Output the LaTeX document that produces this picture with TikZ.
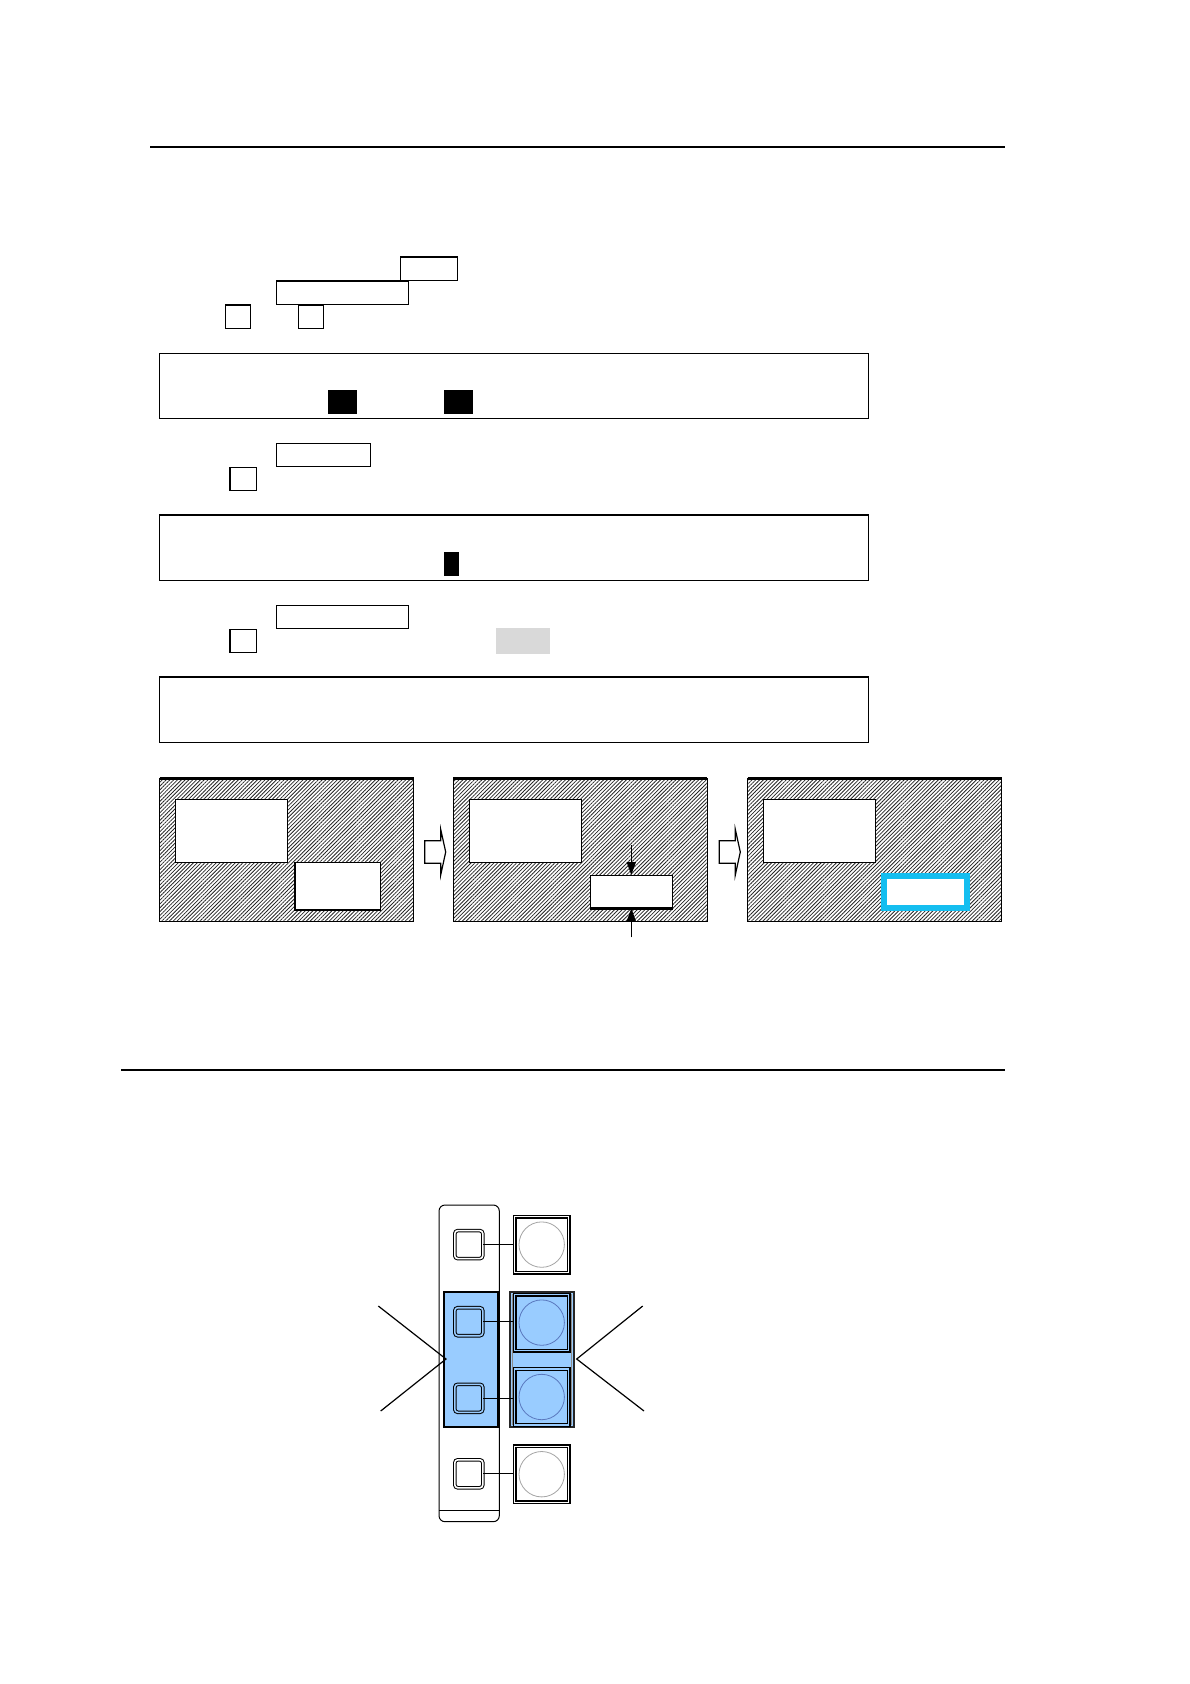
\documentclass[tikz,border=0pt]{standalone}
\usetikzlibrary{patterns.meta,arrows.meta}
\definecolor{cyanb}{RGB}{20,190,240}
\definecolor{lblue}{RGB}{153,204,255}
\definecolor{grayfill}{RGB}{217,217,217}
\definecolor{circgray}{RGB}{165,165,165}
\definecolor{circblue}{RGB}{90,120,190}
\begin{document}
\begin{tikzpicture}[x=0.5bp,y=-0.5bp,
  box/.style={draw=black,line width=0.6bp},
  hatchpanel/.style={draw=black,line width=0.5bp,pattern={Lines[angle=45,distance=1.35pt,line width=0.4pt]},pattern color=black!85},
  winbox/.style={draw=black,line width=0.6bp,fill=white},
  arr/.style={-{Triangle[length=6.5bp,width=4.5bp]},line width=0.7bp},
  blockarrow/.style={draw=black,line width=0.6bp,fill=white},
  smallsq/.style={draw=black,line width=0.5bp,double distance=0.8bp,rounded corners=1.5bp,minimum width=14bp,minimum height=14bp,inner sep=0pt},
  bigbtn/.style={draw=black,line width=0.6bp,double distance=0.7bp,minimum width=27bp,minimum height=28bp,inner sep=0pt},
  btncircle/.style={circle,line width=0.4bp,minimum size=22.7bp,inner sep=0pt},
  link/.style={draw=black,line width=0.6bp},
  chevron/.style={draw=black,line width=0.6bp}]
\useasboundingbox (0,0) rectangle (1190,1684);

% top rule
\draw[line width=1bp] (150,147) -- (1005,147);

% upper small boxes
\draw[box] (400.3,257) rectangle (457.1,280.7);
\draw[box] (276.5,281) rectangle (408.3,304.3);
\draw[box] (225.4,305) rectangle (250.1,328.7);
\draw[box] (298.3,305) rectangle (323.5,328.7);

% display 1
\draw[box] (159.1,353.3) rectangle (868.5,418.3);
\fill[black] (328,390) rectangle (357.2,414);
\fill[black] (444.2,390) rectangle (472.9,414);

\draw[box] (276.3,443.3) rectangle (370.5,466.7);
\draw[box] (229.9,467.3) rectangle (256.7,490.7);

% display 2
\draw[box] (159.1,515) rectangle (868.5,580.3);
\fill[black] (444.2,552) rectangle (459,575.7);

\draw[box] (276.3,605.3) rectangle (408.3,628.3);
\draw[box] (229.9,629.3) rectangle (256.7,652.7);
\fill[grayfill] (495.9,628) rectangle (550.4,653.7);

% display 3
\draw[box] (159.1,677) rectangle (868.5,742.3);

% hatched panels
\foreach \px in {159.5,453.3,747.7}{
  \filldraw[hatchpanel] (\px,778.3) rectangle ({\px+254},921.7);
  \draw[line width=1.4bp] (\px,778.3) -- ({\px+254},778.3);
  \draw[winbox] ({\px+16},799.3) rectangle ({\px+128},862.3);
}
% panel 1 small window
\draw[winbox] (294.9,862.7) rectangle (380.2,910);
\draw[line width=1.2bp] (294.9,910) -- (380.2,910);
% panel 2 small window with arrows
\node[winbox,minimum width=41bp,minimum height=16bp,inner sep=0pt] (mid) at (631.3,891.7) {};
\draw[line width=1.2bp] (mid.south west) -- (mid.south east);
\coordinate (atop) at (631.3,845);
\coordinate (abot) at (631.3,937.3);
\draw[arr] (atop) -- (mid.north);
\draw[arr] (abot) -- (mid.south);
% panel 3 cyan window
\draw[cyanb,line width=3bp,fill=white] (883.5,875.7) rectangle (967.2,907.7);

% block arrows
\foreach \dx in {0,294.6}{
  \draw[blockarrow] ({424.7+\dx},840.7) -- ({440.7+\dx},840.7) -- ({440.7+\dx},829.3)
    -- ({445.7+\dx},852) -- ({440.7+\dx},875) -- ({440.7+\dx},863.3) -- ({424.7+\dx},863.3) -- cycle;
}

% second rule
\draw[line width=0.8bp] (121.4,1069.7) -- (1005.3,1069.7);

% button strip
\draw[line width=0.5bp,rounded corners=3bp] (439,1205) rectangle (499.3,1521.7);
\draw[line width=0.5bp] (439,1510) -- (499.3,1510);
\draw[fill=lblue,line width=1.2bp] (444,1291.7) rectangle (497.7,1427);
\draw[fill=lblue,draw=black!85,line width=1.2bp] (510,1291.7) rectangle (574,1427);
\draw[draw=black!45,line width=0.5bp] (512.5,1294) rectangle (571.5,1424.7);

% small keys
\node[smallsq,fill=white,double=white] (sq1) at (468.8,1244.6) {};
\node[smallsq,fill=lblue,double=lblue] (sq2) at (468.8,1321.7) {};
\node[smallsq,fill=lblue,double=lblue] (sq3) at (468.8,1398.3) {};
\node[smallsq,fill=white,double=white] (sq4) at (468.8,1473.8) {};

% big buttons
\node[bigbtn,fill=white,double=white] (bt1) at (541.7,1244.6) {};
\node[bigbtn,fill=lblue,double=lblue] (bt2) at (541.7,1322.6) {};
\node[bigbtn,fill=lblue,double=lblue] (bt3) at (541.7,1397) {};
\node[bigbtn,fill=white,double=white] (bt4) at (541.7,1474.2) {};
\node[btncircle,draw=circgray] (c1) at (bt1.center) {};
\node[btncircle,draw=circblue] (c2) at (bt2.center) {};
\node[btncircle,draw=circblue] (c3) at (bt3.center) {};
\node[btncircle,draw=circgray] (c4) at (bt4.center) {};

% links
\draw[link] (sq1.east) -- (sq1.east -| bt1.west);
\draw[link] (sq2.east) -- (sq2.east -| bt2.west);
\draw[link] (sq3.east) -- (sq3.east -| bt3.west);
\draw[link] (sq4.east) -- (sq4.east -| bt4.west);

% chevrons
\coordinate (la) at (378.3,1306);
\coordinate (lv) at (446,1359);
\coordinate (lb) at (380.7,1411);
\coordinate (ra) at (642.7,1306);
\coordinate (rv) at (576.7,1359);
\coordinate (rb) at (644,1411);
\draw[chevron] (la) -- (lv) -- (lb);
\draw[chevron] (ra) -- (rv) -- (rb);
\end{tikzpicture}
\end{document}
